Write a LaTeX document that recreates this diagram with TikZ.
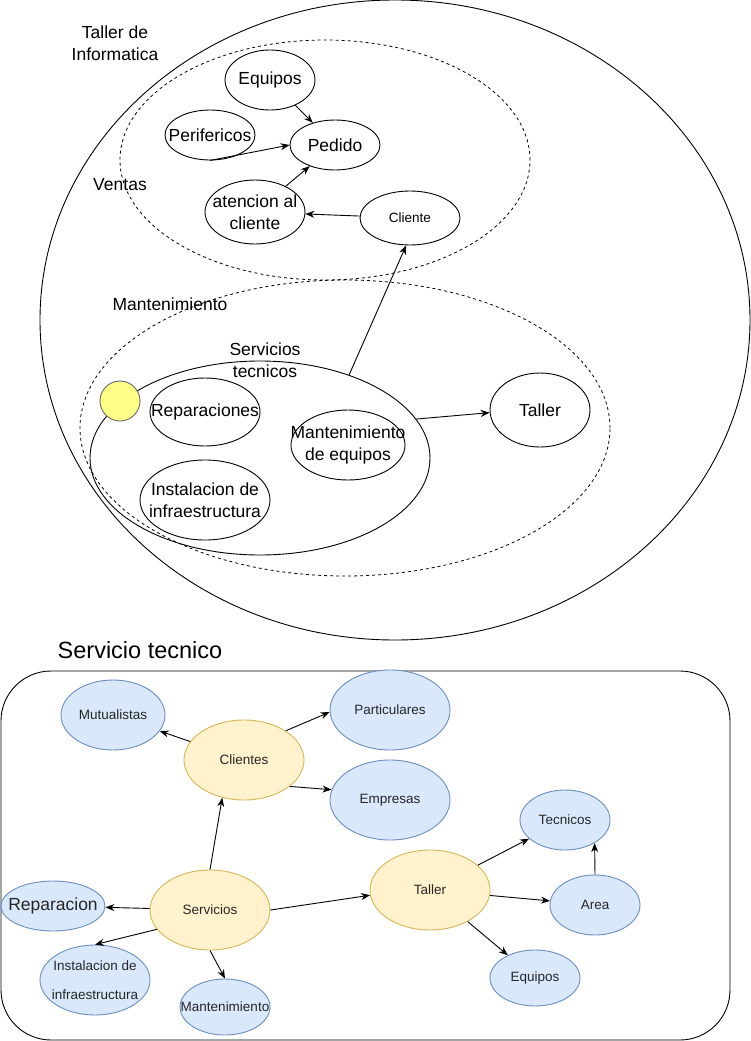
\documentclass[tikz,border=0pt]{standalone}
\usepackage{fontspec}
\setmainfont{Liberation Sans}
\usetikzlibrary{shapes.geometric,arrows.meta}
\definecolor{bfill}{HTML}{DAE8FC}
\definecolor{bstroke}{HTML}{6C8EBF}
\definecolor{yfill}{HTML}{FFF2CC}
\definecolor{ystroke}{HTML}{D6B656}
\definecolor{dot}{HTML}{FFFF88}
\tikzset{
  base/.style={ellipse, draw, line width=0.9pt, inner sep=0pt},
  big/.style={font=\fontsize{17.5}{22}\selectfont, align=center},
  small/.style={font=\fontsize{13.5}{16}\selectfont, align=center, text=black!85},
  bnode/.style={base, draw=bstroke, fill=bfill},
  ynode/.style={base, draw=ystroke, fill=yfill},
  dashedell/.style={base, line width=0.8pt, dash pattern=on 3pt off 3pt},
  arr/.style={-{Stealth[length=9pt,width=7pt]}, line width=0.9pt},
}
\begin{document}
\begin{tikzpicture}[x=1pt,y=-1pt]
\useasboundingbox (0,0) rectangle (751,1041);
% --- Top part ---
\node[base, minimum width=710pt, minimum height=640pt] (tal) at (395,320) {};
\node[dashedell, minimum width=410pt, minimum height=240pt] (ven) at (325,160) {};
\node[dashedell, minimum width=530pt, minimum height=296pt] (man) at (345,428) {};
\node[big] (tlabel) at (115,43) {Taller de\\Informatica};
\node[big] (vlabel) at (120,185) {Ventas};
\node[big] (mlabel) at (170,304) {Mantenimiento};

\node[base, minimum width=90pt, minimum height=60pt, label={[big]center:Equipos}] (eq) at (270,80) {};
\node[base, minimum width=90pt, minimum height=50pt, label={[big]center:Pedido}] (pe) at (335,145) {};
\node[base, minimum width=90pt, minimum height=50pt, label={[big]center:Perifericos}] (pf) at (210,135) {};
\node[base, minimum width=100pt, minimum height=64pt, label={[big]center:atencion al\\cliente}] (at) at (255,212) {};
\node[base, minimum width=100pt, minimum height=54pt, label={[small,text=black]center:Cliente}] (cli) at (410,218) {};

\node[base, minimum width=340pt, minimum height=194pt] (st) at (260,458) {};
\node[big] (stlabel) at (265,360) {Servicios\\tecnicos};
\node[circle, draw=black!60, fill=dot, line width=0.9pt, minimum size=40pt, inner sep=0pt] (dotn) at (120,401) {};
\node[base, minimum width=110pt, minimum height=68pt, label={[big]center:Reparaciones}] (rep) at (205,412) {};
\node[base, minimum width=130pt, minimum height=80pt, label={[big]center:Instalacion de\\infraestructura}] (ins) at (205,500) {};
\node[base, minimum width=114pt, minimum height=70pt, label={[big]center:Mantenimiento\\de equipos}] (mde) at (348,445) {};
\node[base, minimum width=100pt, minimum height=74pt, label={[big]center:Taller}] (tl1) at (540,410) {};

\draw[arr] (eq) -- (pe);
\draw[arr] (pf.south) -- (pe.west);
\draw[arr] (at) -- (pe);
\draw[arr] (cli) -- (at);
\draw[arr] (st.43) -- (cli.262);
\draw[arr] (st.14) -- (tl1.183);

% --- Bottom part ---
\node[font=\fontsize{23.5}{28}\selectfont] (stitle) at (140,650) {Servicio tecnico};
\draw[line width=0.9pt, rounded corners=50pt] (1,671) rectangle (730,1040);

\node[bnode, minimum width=104pt, minimum height=70pt, label={[small]center:Mutualistas}] (mu) at (113,715) {};
\node[bnode, minimum width=120pt, minimum height=80pt, label={[small]center:Particulares}] (pa) at (390,710) {};
\node[ynode, minimum width=120pt, minimum height=80pt, label={[small]center:Clientes}] (cl) at (244,760) {};
\node[bnode, minimum width=120pt, minimum height=80pt, label={[small]center:Empresas}] (em) at (390,800) {};
\node[ynode, minimum width=120pt, minimum height=80pt, label={[small]center:Servicios}] (sv) at (210,910) {};
\node[bnode, minimum width=104pt, minimum height=50pt, label={[font=\fontsize{17.5}{21}\selectfont, text=black!85]center:Reparacion}] (re) at (53,906) {};
\node[bnode, minimum width=110pt, minimum height=70pt, label={[small, font=\fontsize{13.5}{29}\selectfont]center:Instalacion de\\infraestructura}] (in) at (95,980) {};
\node[bnode, minimum width=90pt, minimum height=56pt, label={[small]center:Mantenimiento}] (ma) at (225,1007) {};
\node[ynode, minimum width=120pt, minimum height=80pt, label={[small]center:Taller}] (ta) at (430,890) {};
\node[bnode, minimum width=90pt, minimum height=60pt, label={[small]center:Tecnicos}] (tc) at (565,820) {};
\node[bnode, minimum width=90pt, minimum height=60pt, label={[small]center:Area}] (ar) at (595,905) {};
\node[bnode, minimum width=90pt, minimum height=56pt, label={[small]center:Equipos}] (eqb) at (535,978) {};

\draw[arr] (cl) -- (mu);
\draw[arr] (cl.35) -- (pa.182);
\draw[arr] (cl.-30) -- (em.170);
\draw[arr] (sv.north) -- (cl.240);
\draw[arr] (sv) -- (re);
\draw[arr] (sv.200) -- (in.north);
\draw[arr] (sv.south) -- (ma.north);
\draw[arr] (sv.east) -- (ta.185);
\draw[arr] (ta) -- (tc);
\draw[arr] (ta) -- (ar);
\draw[arr] (ta) -- (eqb);
\draw[arr] (ar.north) -- (tc.-38);
\end{tikzpicture}
\end{document}
